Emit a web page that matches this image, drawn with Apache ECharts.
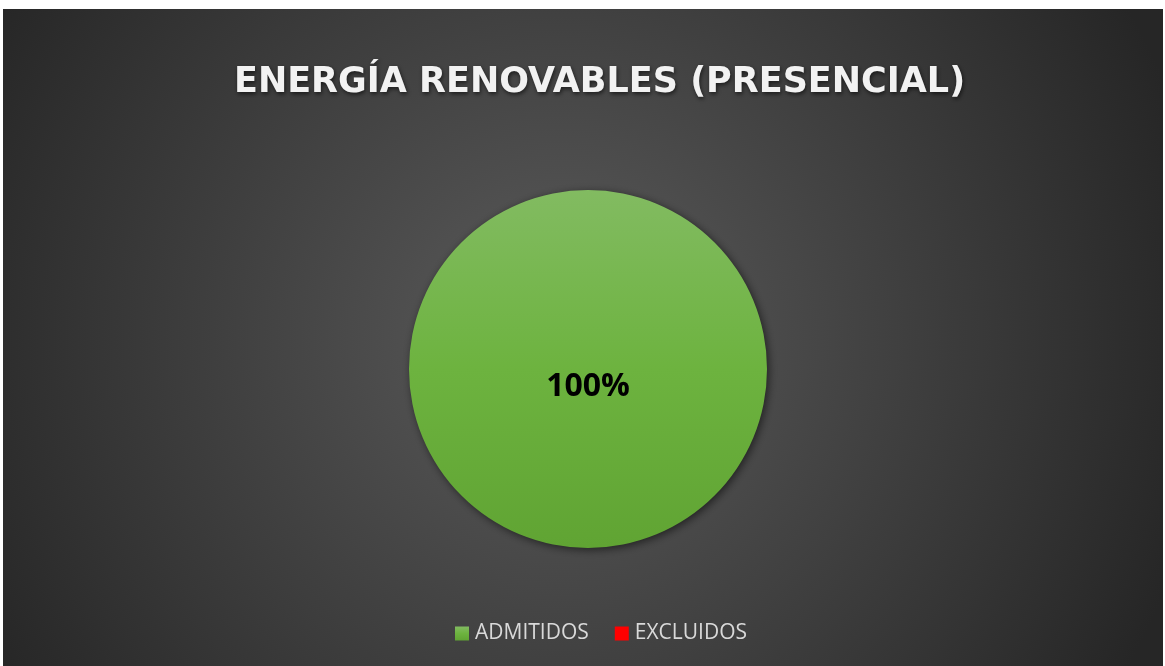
<!DOCTYPE html>
<html>
<head>
<meta charset="utf-8">
<script src="https://cdn.jsdelivr.net/npm/echarts@6/dist/echarts.min.js"></script>
<style>
  html, body { margin: 0; padding: 0; background: #fff; }
  #main { position: absolute; left: 3px; top: 9px; width: 1160px; height: 657px; }
</style>
</head>
<body>
<div id="main"></div>
<script>
// datos del gráfico
var titleText = 'ENERGÍA RENOVABLES (PRESENCIAL)'
var categories = ['ADMITIDOS', 'EXCLUIDOS']
var values = [100, 0]
var colors = ['#6db33f', '#ff0000']

var chart = echarts.init(document.getElementById('main'))

var pieData = categories.map(function (name, i) {
  var item = { name: name, value: values[i] }
  if (i === 0) {
    item.itemStyle = {
      color: new echarts.graphic.LinearGradient(0, 0, 0, 1, [
        { offset: 0, color: '#82bb61' },
        { offset: 0.5, color: '#6db33f' },
        { offset: 1, color: '#60a433' }
      ])
    }
  } else {
    item.itemStyle = { color: colors[i] }
    item.label = { show: false }
  }
  return item
})

var option = {
  backgroundColor: new echarts.graphic.RadialGradient(0.48, 0.5, 1.0, [
    { offset: 0, color: '#5b5b5b' },
    { offset: 1, color: '#262626' }
  ]),
  color: colors,
  title: {
    text: titleText,
    left: 226,
    top: 51,
    textStyle: {
      fontFamily: 'DejaVu Sans',
      fontWeight: 'bold',
      fontSize: 35,
      color: '#f2f2f2',
      textShadowColor: 'rgba(0,0,0,0.6)',
      textShadowBlur: 4,
      textShadowOffsetX: 1,
      textShadowOffsetY: 2
    }
  },
  legend: {
    data: categories,
    left: 447,
    top: 609,
    icon: 'rect',
    itemWidth: 14,
    itemHeight: 14,
    itemGap: 26,
    textStyle: {
      fontFamily: 'Open Sans',
      fontSize: 21,
      color: '#d9d9d9',
      padding: [0, 0, 0, 1]
    }
  },
  series: [
    {
      type: 'pie',
      center: [585, 360],
      radius: 179,
      startAngle: 90,
      silent: true,
      avoidLabelOverlap: false,
      itemStyle: {
        borderWidth: 0,
        shadowBlur: 8,
        shadowColor: 'rgba(0,0,0,0.55)',
        shadowOffsetX: 2,
        shadowOffsetY: 2
      },
      label: {
        show: true,
        position: 'center',
        formatter: '\n{d}%',
        fontFamily: 'Open Sans',
        fontWeight: 'bold',
        fontSize: 32,
        lineHeight: 36,
        color: '#000'
      },
      labelLine: { show: false },
      data: pieData
    }
  ]
}

chart.setOption(option)
</script>
</body>
</html>
